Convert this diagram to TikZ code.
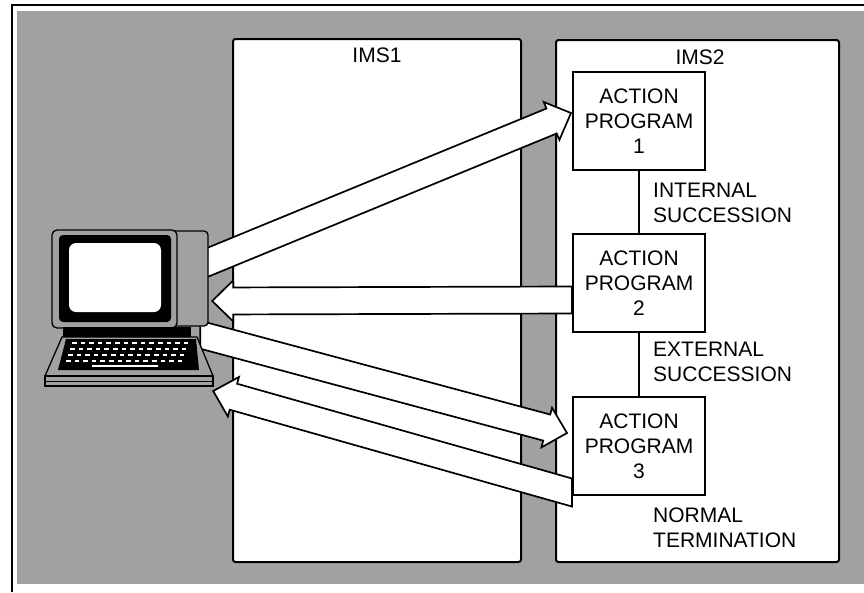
\documentclass[tikz,border=0pt]{standalone}
\usepackage{fontspec}
\setmainfont{Liberation Sans}
\usetikzlibrary{calc}

\pgfdeclarelayer{back}
\pgfdeclarelayer{flow}
\pgfsetlayers{back,flow,main}

\definecolor{tone}{gray}{0.63}
\newcommand\diagfont{\fontsize{21}{25}\selectfont}

% block arrow sizes
\newcommand\shaftw{13.5pt}
\newcommand\headw{20.5pt}
\newcommand\headl{21pt}

% wide outlined arrow from a tail point (cut vertically) to a tip point
\newcommand\flowarrow[2]{%
  \draw[flowline] let \p1=($(#2)-(#1)$),
      \n1={\shaftw*veclen(\x1,\y1)/\x1},
      \n2={-\shaftw*veclen(\x1,\y1)/\x1},
      \p2=($(#2)!\headl!(#1)$) in
    ($(#1)+(0,\n1)$) -- ($(\p2)!\shaftw!90:(#2)$) -- ($(\p2)!\headw!90:(#2)$)
    -- (#2) -- ($(\p2)!\headw!-90:(#2)$) -- ($(\p2)!\shaftw!-90:(#2)$)
    -- ($(#1)+(0,\n2)$) -- cycle;}

\tikzset{
  frameline/.style={line width=2.4pt},
  imsbox/.style={draw, line width=2pt, fill=white, rounded corners=2.5pt, inner sep=0pt},
  title/.style={font=\diagfont, inner sep=0pt},
  apbox/.style={draw, line width=2pt, fill=white, minimum width=132pt, minimum height=98pt,
    align=center, inner sep=0pt, font=\diagfont},
  sidelabel/.style={anchor=west, inner sep=0pt, align=left, font=\diagfont},
  link/.style={line width=2pt},
  flowline/.style={draw=black, fill=white, line width=1.7pt},
  pcline/.style={draw=black, line width=1.3pt},
  hidden/.style={inner sep=0pt, draw=none, fill=none},
}

\begin{document}
\begin{tikzpicture}[x=1pt, y=-1pt]
\useasboundingbox (0,0) rectangle (864,592);

\begin{pgfonlayer}{back}
  % page, tinted field and frame
  \fill[white] (0,0) rectangle (864,592);
  \fill[tone] (17,11) rectangle (864,584);
  \draw[frameline] (12,592) -- (12,5) -- (864,5);
  % the two IMS regions
  \node[imsbox, minimum width=288pt, minimum height=523pt] (ims1) at (377,300.5) {};
  \node[imsbox, minimum width=283pt, minimum height=522pt] (ims2) at (697.5,301) {};
  \node[title] (ims1lbl) at (377,55) {IMS1};
  \node[title] (ims2lbl) at (700,57) {IMS2};
\end{pgfonlayer}

% action programs
\node[apbox] (ap1) at (639,121) {ACTION\\PROGRAM\\1};
\node[apbox] (ap2) at (639,283) {ACTION\\PROGRAM\\2};
\node[apbox] (ap3) at (639,446) {ACTION\\PROGRAM\\3};
\draw[link] (ap1.south) -- (ap2.north);
\draw[link] (ap2.south) -- (ap3.north);

\node[sidelabel] (lint)  at (653,202.5) {INTERNAL\\SUCCESSION};
\node[sidelabel] (lext)  at (653,362)   {EXTERNAL\\SUCCESSION};
\node[sidelabel] (lnorm) at (653,527.5) {NORMAL\\TERMINATION};

% terminal: monitor and keyboard
\node[hidden, minimum width=156pt, minimum height=97pt] (mon) at (130,278.5) {};
\node[hidden, minimum width=168pt, minimum height=49pt] (kbd) at (129,361.5) {};

% monitor side panel and front
\draw[pcline, fill=tone, rounded corners=4pt] (166,231) rectangle (208,326);
\draw[pcline, fill=tone, rounded corners=5pt] (52,230) rectangle (177,328);
\fill[black, rounded corners=4pt] (59,235) rectangle (171,322);
\fill[white, rounded corners=7pt] (69,243) rectangle (161,312);
% stand
\draw[pcline, fill=black] (64,328) rectangle (190,336);
% keyboard
\draw[pcline, fill=tone] (62,337) -- (197,337) -- (213,376) -- (45,376) -- cycle;
\fill[black] (66,339) -- (196,339) -- (199,370) -- (58,370) -- cycle;
\foreach \ry/\rx in {341.5/72, 347.5/70, 353.5/68, 359.5/66} {
  \foreach \k in {0,...,13} {
    \fill[white] ({\rx+\k*8.6},\ry) rectangle ++(4.6,2.4);
  }
}
\fill[white] (92,364.5) rectangle (158,367);
% base plate
\draw[pcline, fill=tone] (45,376) rectangle (213,386);
\draw[line width=0.8pt] (46,381) -- (212,381);

% message flows
\coordinate (a1t) at ($(mon.east)+(-1,-16)$);
\coordinate (a1p) at ($(ap1.west)+(-1,-8)$);
\coordinate (a2t) at ($(ap2.west)+(0,17)$);
\coordinate (a2p) at ($(mon.east)+(4,22.5)$);
\coordinate (a3t) at ($(mon.south east)+(-8,7.5)$);
\coordinate (a3p) at ($(ap3.west)+(-5,-13)$);
\coordinate (a4t) at ($(ap3.west)+(0,46.5)$);
\coordinate (a4p) at ($(kbd.east)+(0,29.5)$);

\begin{pgfonlayer}{flow}
  \flowarrow{a1t}{a1p}
  \flowarrow{a2t}{a2p}
  \flowarrow{a3t}{a3p}
  \flowarrow{a4t}{a4p}
\end{pgfonlayer}
\end{tikzpicture}
\end{document}
